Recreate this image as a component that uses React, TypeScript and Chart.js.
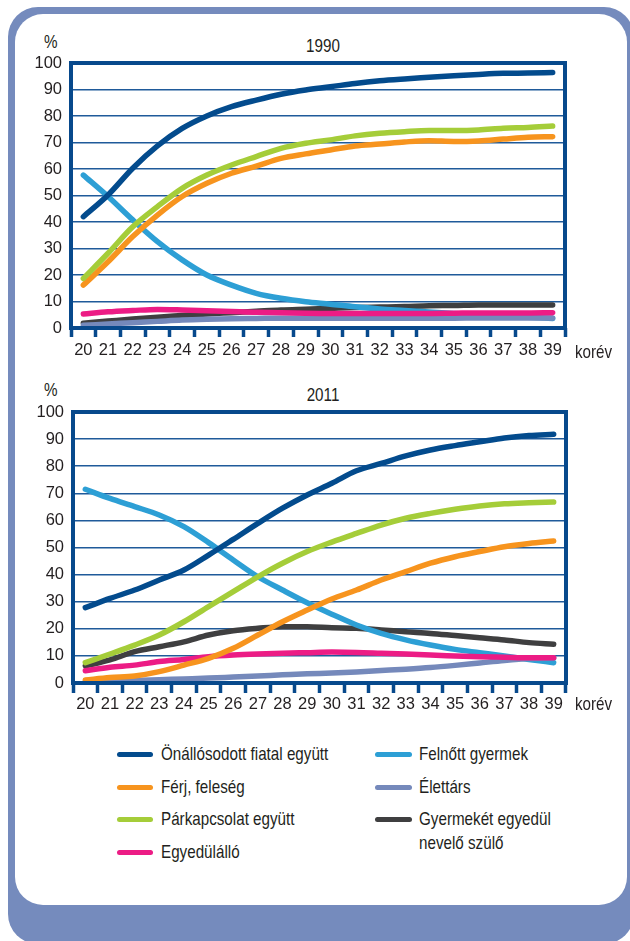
import React, { useEffect, useRef } from 'react';
import { Chart, registerables } from 'chart.js';

Chart.register(...registerables);

// ---------- data ----------
const ages = ['20', '21', '22', '23', '24', '25', '26', '27', '28', '29', '30', '31', '32', '33', '34', '35', '36', '37', '38', '39'];

const seriesNames = [
  'Önállósodott fiatal együtt',
  'Férj, feleség',
  'Párkapcsolat együtt',
  'Egyedülálló',
  'Felnőtt gyermek',
  'Élettárs',
  'Gyermekét egyedül nevelő szülő',
];

// 1990
const onallo1990 = [42, 50.2, 60.3, 68.7, 75.3, 80, 83.5, 86, 88.2, 89.8, 91, 92.3, 93.3, 94, 94.6, 95.2, 95.7, 96.1, 96.2, 96.4];
const ferj1990 = [16.2, 25, 34.5, 42.6, 49.6, 54.6, 58.4, 61.1, 64, 65.7, 67.2, 68.7, 69.4, 70.2, 70.7, 70.4, 70.6, 71.3, 72, 72.2];
const parkap1990 = [18.7, 28.2, 38.2, 45.8, 52.7, 57.7, 61.5, 64.7, 67.8, 69.7, 71, 72.5, 73.5, 74.1, 74.5, 74.5, 74.7, 75.4, 75.7, 76.2];
const egyedul1990 = [5.3, 6.1, 6.6, 7, 6.8, 6.5, 6.2, 5.9, 5.8, 5.6, 5.5, 5.5, 5.5, 5.5, 5.5, 5.6, 5.7, 5.7, 5.7, 5.8];
const felnott1990 = [57.7, 49.6, 40.8, 32.6, 25.7, 20, 16.2, 13.1, 11.2, 9.9, 9, 8, 7.2, 6.6, 6, 5.5, 5, 4.5, 4.1, 3.6];
const elettars1990 = [1, 1.5, 2, 2.5, 3, 3.3, 3.5, 3.6, 3.7, 3.7, 3.7, 3.7, 3.7, 3.7, 3.7, 3.7, 3.8, 3.8, 3.8, 3.8];
const gyermek1990 = [1.8, 2.6, 3.4, 4.1, 4.7, 5.3, 5.8, 6.3, 6.8, 7.1, 7.4, 7.7, 7.9, 8.1, 8.4, 8.5, 8.7, 8.7, 8.7, 8.7];

// 2011
const onallo2011 = [27.8, 31.2, 34.3, 38, 41.7, 47.2, 53, 58.9, 64.5, 69.4, 73.7, 78.3, 81, 83.8, 86, 87.6, 89, 90.4, 91.3, 91.8];
const ferj2011 = [1.1, 2, 2.6, 4.2, 6.6, 9.1, 12.8, 17.7, 22.6, 26.9, 31, 34.3, 38, 41.1, 44.2, 46.6, 48.5, 50.3, 51.5, 52.4];
const parkap2011 = [7.5, 10.7, 14, 17.7, 22.6, 28.2, 33.7, 39.2, 44.2, 48.5, 52, 55.2, 58.3, 60.8, 62.6, 64.1, 65.3, 66.1, 66.5, 66.8];
const egyedul2011 = [4.5, 5.8, 6.6, 7.9, 8.7, 9.7, 10.3, 10.7, 11, 11.2, 11.4, 11.3, 11, 10.7, 10.3, 10, 9.7, 9.5, 9.3, 9.3];
const felnott2011 = [71.5, 68.1, 65.1, 62, 57.7, 51.8, 45.4, 39.2, 34.3, 29.6, 25.4, 21.4, 18.3, 15.9, 14, 12.4, 11.2, 10, 8.7, 7.5];
const elettars2011 = [0.5, 0.7, 0.9, 1.2, 1.5, 1.8, 2.2, 2.6, 3, 3.4, 3.7, 4.1, 4.6, 5.1, 5.7, 6.5, 7.4, 8.3, 9, 9.3];
const gyermek2011 = [6.3, 8.5, 11.6, 13.4, 15.2, 17.7, 19.3, 20.2, 20.8, 20.8, 20.4, 20.2, 19.6, 18.9, 18.3, 17.5, 16.7, 15.9, 14.9, 14.3];

// ---------- styles ----------
const FONT = "'Liberation Sans', Arial, sans-serif";
const TEXT = '#231f20';
const AXIS = '#07498c';
const GRID = '#1f5a9a';
const FRAME = '#758bbd';

const colors = ['#034b8d', '#f7941e', '#a5cd39', '#ec1c85', '#2d9fd5', '#7589bb', '#3f3f40'];
// drawing priority: lower = on top
const drawOrder = [0, 2, 1, 3, 5, 4, 6];

const boxPlugin = {
  id: 'plotBox',
  afterDraw(chart: any) {
    const { left, top, right, bottom } = chart.chartArea;
    const ctx = chart.ctx;
    ctx.save();
    ctx.strokeStyle = AXIS;
    ctx.lineWidth = 4;
    ctx.strokeRect(left, top, right - left, bottom - top);
    ctx.restore();
  },
};

type Props = {
  top: number;
  height: number;
  padTop: number;
  padRight: number;
  yWidth: number;
  xHeight: number;
  tickLen: number;
  tickPad: number;
  data: number[][];
};

function LineChart(p: Props) {
  const ref = useRef<HTMLCanvasElement>(null);
  useEffect(() => {
    if (!ref.current) return;
    const chart = new Chart(ref.current, {
      type: 'line',
      data: {
        labels: ages,
        datasets: p.data.map((d, i) => ({
          label: seriesNames[i],
          data: d,
          borderColor: colors[i],
          backgroundColor: colors[i],
          borderWidth: 5.5,
          borderCapStyle: 'round',
          borderJoinStyle: 'round',
          pointRadius: 0,
          tension: 0.4,
          cubicInterpolationMode: 'monotone',
          fill: false,
          order: drawOrder[i],
        })),
      },
      options: {
        responsive: false,
        animation: false,
        devicePixelRatio: 1,
        layout: { padding: { top: p.padTop, right: p.padRight, left: 0, bottom: 0 } },
        plugins: { legend: { display: false }, tooltip: { enabled: false }, title: { display: false } },
        scales: {
          x: {
            type: 'category',
            offset: true,
            grid: {
              offset: true,
              drawOnChartArea: false,
              drawTicks: true,
              tickLength: p.tickLen,
              tickWidth: 3.5,
              tickColor: AXIS,
            },
            border: { display: false },
            ticks: {
              color: TEXT,
              font: { family: FONT, size: 16.5 },
              padding: p.tickPad,
              maxRotation: 0,
              autoSkip: false,
            },
            afterFit: (s: any) => {
              s.height = p.xHeight;
            },
          },
          y: {
            min: 0,
            max: 100,
            ticks: { stepSize: 10, color: TEXT, font: { family: FONT, size: 16.5 }, padding: 9 },
            grid: { color: GRID, lineWidth: 1.5, drawTicks: false },
            border: { display: false },
            afterFit: (s: any) => {
              s.width = p.yWidth;
            },
          },
        },
      } as any,
      plugins: [boxPlugin],
    });
    return () => chart.destroy();
  }, []);
  return (
    <canvas
      ref={ref}
      width={630}
      height={p.height}
      style={{ position: 'absolute', left: 0, top: p.top, width: 630, height: p.height }}
    />
  );
}

const txt = (extra: React.CSSProperties): React.CSSProperties => ({
  position: 'absolute',
  fontFamily: FONT,
  fontSize: 19,
  lineHeight: '24px',
  color: TEXT,
  whiteSpace: 'nowrap',
  transform: 'scaleX(0.8)',
  transformOrigin: 'left center',
  ...extra,
});

const legendLeft = [
  { i: 0, y: 754 },
  { i: 1, y: 787 },
  { i: 2, y: 819 },
  { i: 3, y: 852 },
];
const legendRight = [
  { i: 4, y: 754 },
  { i: 5, y: 787 },
  { i: 6, y: 819 },
];

export default function App() {
  return (
    <div style={{ position: 'absolute', left: 0, top: 0, width: 630, height: 941, overflow: 'hidden', background: '#fff' }}>
      <div style={{ position: 'absolute', left: 8, top: 7, width: 626, height: 937, borderRadius: 30, background: FRAME }} />
      <div style={{ position: 'absolute', left: 15, top: 14, width: 612, height: 891, borderRadius: 28, background: '#fff' }} />

      {/* chart 1990 */}
      <div style={txt({ left: 223, width: 200, top: 34, textAlign: 'center', transformOrigin: 'center center' })}>1990</div>
      <div style={txt({ left: 44, top: 30 })}>%</div>
      <LineChart
        top={30}
        height={340}
        padTop={33}
        padRight={65}
        yWidth={71}
        xHeight={42}
        tickLen={9}
        tickPad={4}
        data={[onallo1990, ferj1990, parkap1990, egyedul1990, felnott1990, elettars1990, gyermek1990]}
      />
      <div style={txt({ left: 575, top: 340 })}>korév</div>

      {/* chart 2011 */}
      <div style={txt({ left: 223, width: 200, top: 383, textAlign: 'center', transformOrigin: 'center center' })}>2011</div>
      <div style={txt({ left: 44, top: 378 })}>%</div>
      <LineChart
        top={380}
        height={340}
        padTop={32}
        padRight={64}
        yWidth={73}
        xHeight={37}
        tickLen={10}
        tickPad={2}
        data={[onallo2011, ferj2011, parkap2011, egyedul2011, felnott2011, elettars2011, gyermek2011]}
      />
      <div style={txt({ left: 575, top: 692 })}>korév</div>

      {/* legend */}
      {legendLeft.map(({ i, y }) => (
        <React.Fragment key={'l' + i}>
          <div style={{ position: 'absolute', left: 117, top: y - 2.5, width: 36, height: 5, borderRadius: 3, background: colors[i] }} />
          <div style={txt({ left: 161, top: y - 12 })}>{seriesNames[i]}</div>
        </React.Fragment>
      ))}
      {legendRight.map(({ i, y }) => (
        <React.Fragment key={'r' + i}>
          <div style={{ position: 'absolute', left: 375, top: y - 2.5, width: 37, height: 5, borderRadius: 3, background: colors[i] }} />
          {i === 6 ? (
            <div style={txt({ left: 419, top: y - 12 })}>
              Gyermekét egyedül
              <br />
              nevelő szülő
            </div>
          ) : (
            <div style={txt({ left: 419, top: y - 12 })}>{seriesNames[i]}</div>
          )}
        </React.Fragment>
      ))}
    </div>
  );
}
